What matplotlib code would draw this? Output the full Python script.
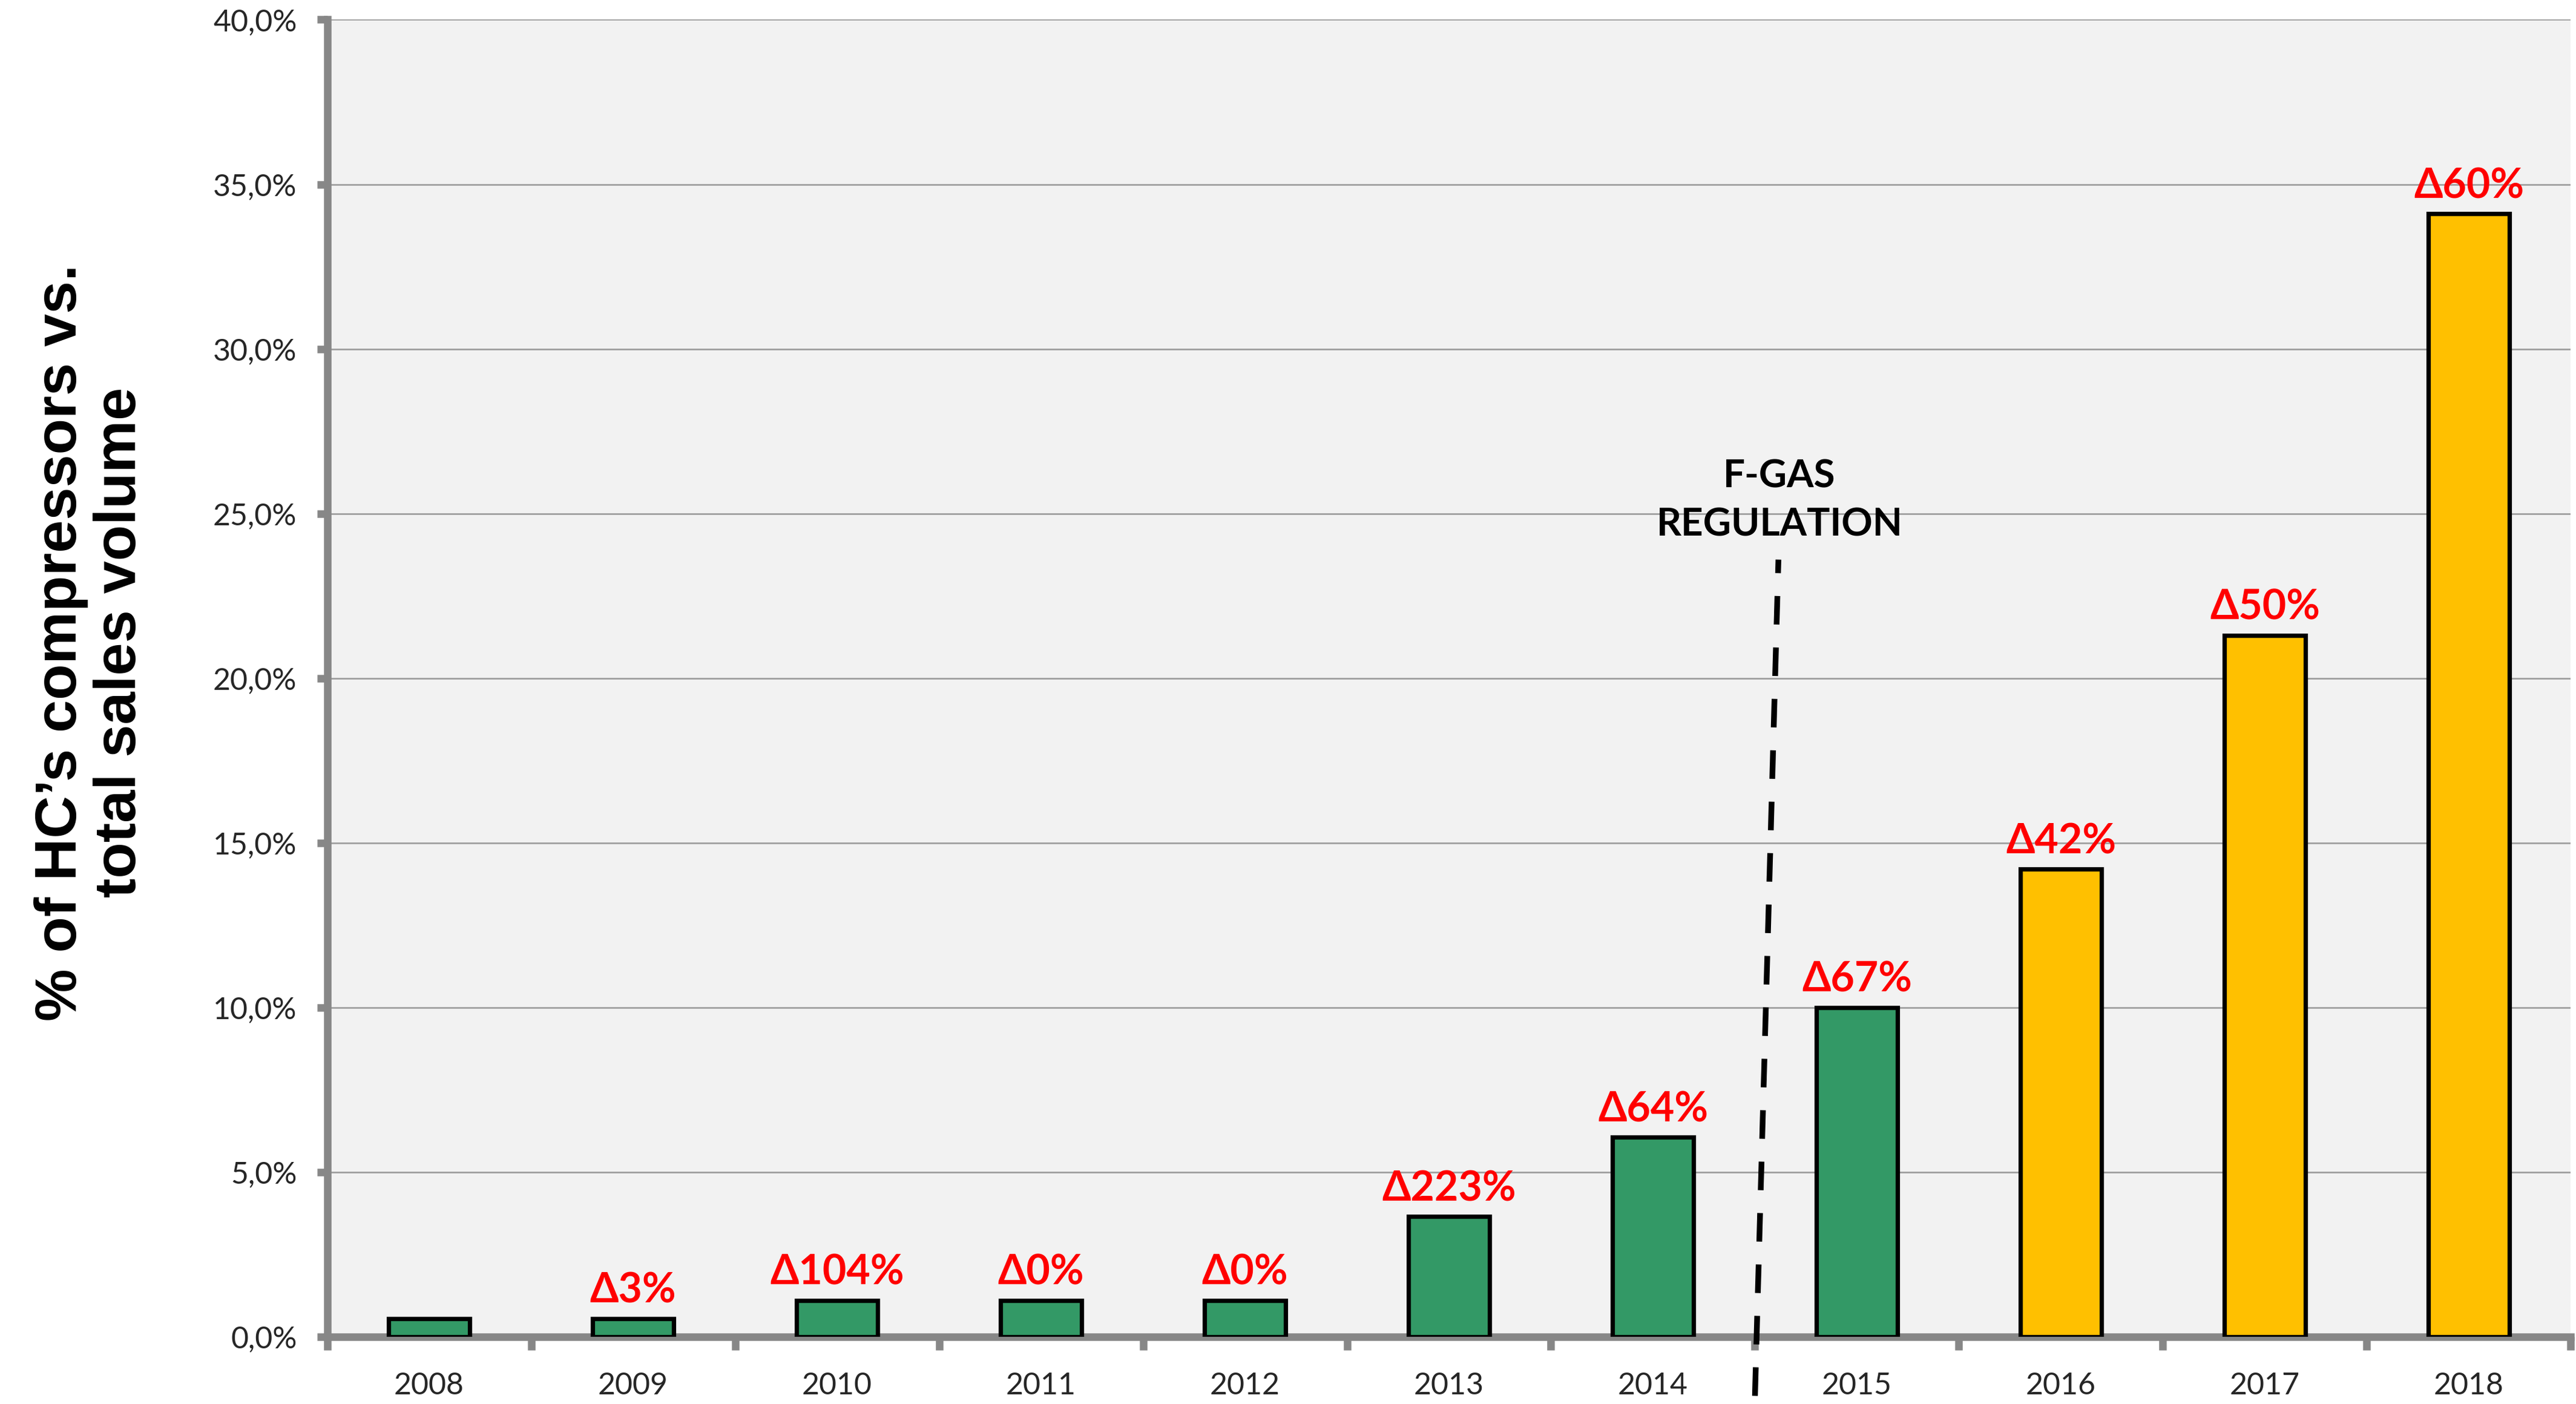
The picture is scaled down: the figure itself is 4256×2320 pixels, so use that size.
import numpy as np
import matplotlib
matplotlib.use("Agg")
import matplotlib.pyplot as plt
from matplotlib.ticker import FuncFormatter, FixedLocator

# ---------------------------
# Daten
# ---------------------------
years = ["2008", "2009", "2010", "2011", "2012", "2013", "2014",
         "2015", "2016", "2017", "2018"]
share = [0.55, 0.55, 1.1, 1.1, 1.1, 3.65, 6.05, 10.0, 14.2, 21.3, 34.1]
deltas = ["", "Δ3%", "Δ104%", "Δ0%", "Δ0%", "Δ223%", "Δ64%",
          "Δ67%", "Δ42%", "Δ50%", "Δ60%"]
colors = ["#339966"] * 8 + ["#FFC000"] * 3

CAL = ["Lato", "DejaVu Sans"]

# ---------------------------
# Diagramm
# ---------------------------
fig = plt.figure(figsize=(21.28, 11.6), dpi=200)
ax = fig.add_axes([0.127, 0.048, 0.871, 0.938])
ax.set_facecolor("#F2F2F2")

x = np.arange(len(years))
bars = ax.bar(x, share, width=0.4, color=colors, edgecolor="black",
              linewidth=2.6, zorder=3)

for b, d in zip(bars, deltas):
    if d:
        ax.annotate(d, (b.get_x() + b.get_width() / 2, b.get_height()),
                    xytext=(0, 5), textcoords="offset points",
                    ha="center", va="bottom", color="red",
                    fontsize=24.5, fontweight="bold", family=CAL, zorder=4)

# F-Gas Linie
ax.plot([6.5, 6.615], [-1.8, 23.6], color="black", linewidth=3.4,
        dashes=(5, 4), clip_on=False, zorder=5)
ax.text(6.62, 25.4, "F-GAS\nREGULATION", ha="center", va="center",
        fontsize=23, fontweight="bold", family=CAL,
        linespacing=1.5, zorder=5)

# Achsen
ax.set_xlim(-0.5, len(years) - 0.5)
ax.set_ylim(0, 40)
ax.set_yticks(np.arange(0, 40.1, 5))
ax.yaxis.set_major_formatter(FuncFormatter(lambda v, p: f"{v:.1f}%".replace(".", ",")))
ax.set_xticks(x)
ax.set_xticklabels(years)
ax.xaxis.set_minor_locator(FixedLocator(np.arange(-0.5, len(years), 1)))

ax.tick_params(axis="x", which="major", length=0, pad=21, labelsize=18,
               labelcolor="#262626")
ax.tick_params(axis="x", which="minor", length=8, width=4.5, color="#878787")
ax.tick_params(axis="y", length=6, width=4.5, color="#878787", pad=12,
               labelsize=18, labelcolor="#262626")
for lab in ax.get_xticklabels() + ax.get_yticklabels():
    lab.set_family(CAL)

ax.grid(axis="y", color="#A0A0A0", linewidth=1.0, zorder=0)
ax.set_axisbelow(True)

for s in ["top", "right"]:
    ax.spines[s].set_visible(False)
for s in ["left", "bottom"]:
    ax.spines[s].set_color("#878787")
    ax.spines[s].set_linewidth(4.5)

ax.set_ylabel("% of HC’s compressors vs.\ntotal sales volume", fontsize=35,
              fontweight="bold", family=["Liberation Sans", "DejaVu Sans"],
              linespacing=1.12)
ax.yaxis.set_label_coords(-0.08, 0.527)

fig.savefig("out.png", dpi=200, facecolor="white")
